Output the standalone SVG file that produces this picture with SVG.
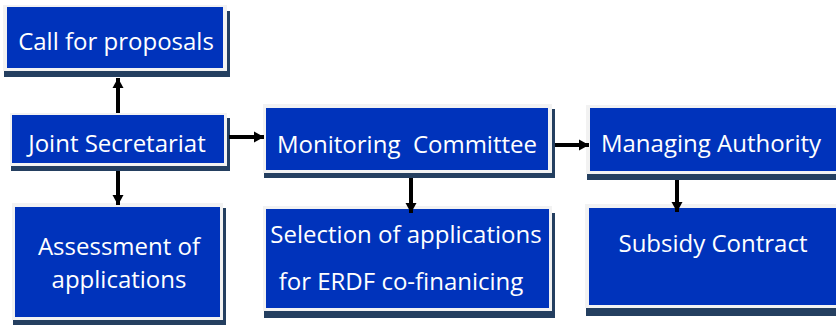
<svg xmlns="http://www.w3.org/2000/svg" width="836" height="325" viewBox="0 0 836 325">
<defs>
<marker id="ah" markerUnits="userSpaceOnUse" markerWidth="12" markerHeight="12" viewBox="0 0 12 12" refX="10" refY="6" orient="auto">
<path d="M0,0.5 L10,6 L0,11.5 Z" fill="#000"/>
</marker>
</defs>
<style>
.sh{fill:#243F60}
.bd{fill:#F2F2F2}
.bx{fill:#0033BB}
.t{font-family:"Open Sans","Noto Sans",sans-serif;font-size:24px;fill:#FFFFFF;text-anchor:middle}
.c{stroke:#000;stroke-width:4;fill:none;marker-end:url(#ah)}
</style>
<rect width="836" height="325" fill="#FFFFFF"/>
<g id="call">
<rect class="sh" x="4" y="11" width="226" height="66"/>
<rect class="bd" x="3" y="5" width="224" height="66"/>
<rect class="bx" x="7" y="7" width="216" height="61"/>
<text class="t" x="116" y="50">Call for proposals</text>
</g>
<g id="js">
<rect class="sh" x="11" y="118" width="219" height="53"/>
<rect class="bd" x="10" y="113" width="217" height="53"/>
<rect class="bx" x="12" y="115" width="212" height="48"/>
<text class="t" x="117" y="152">Joint Secretariat</text>
</g>
<g id="assess">
<rect class="sh" x="13" y="208" width="213" height="117"/>
<rect class="bd" x="12" y="203" width="211" height="117"/>
<rect class="bx" x="15" y="207" width="205" height="110"/>
<text class="t" x="119" y="255">Assessment of</text>
<text class="t" x="119" y="288">applications</text>
</g>
<g id="mc">
<rect class="sh" x="264" y="109" width="291" height="69"/>
<rect class="bd" x="263" y="104" width="289" height="69"/>
<rect class="bx" x="266" y="108" width="282" height="62"/>
<text class="t" x="407" y="153" xml:space="preserve">Monitoring  Committee</text>
</g>
<g id="sel">
<rect class="sh" x="264" y="213" width="291" height="105"/>
<rect class="bd" x="263" y="206" width="289" height="105"/>
<rect class="bx" x="266" y="209" width="283" height="99"/>
<text class="t" x="406" y="243">Selection of applications</text>
<text class="t" x="401" y="290">for ERDF co-finanicing</text>
</g>
<g id="ma">
<rect class="sh" x="587" y="111" width="260" height="69"/>
<rect class="bd" x="586" y="105" width="260" height="69"/>
<rect class="bx" x="590" y="108" width="256" height="63"/>
<text class="t" x="711" y="152">Managing Authority</text>
</g>
<g id="sc">
<rect class="sh" x="586" y="212" width="260" height="104"/>
<rect class="bd" x="585" y="204" width="260" height="104"/>
<rect class="bx" x="589" y="208" width="256" height="97"/>
<text class="t" x="713" y="252">Subsidy Contract</text>
</g>
<g id="connectors">
<line class="c" x1="118" y1="113" x2="118" y2="78"/>
<line class="c" x1="118" y1="171" x2="118" y2="205"/>
<line class="c" x1="229" y1="137" x2="264" y2="137"/>
<line class="c" x1="555" y1="145" x2="589" y2="145"/>
<line class="c" x1="411" y1="178" x2="411" y2="213"/>
<line class="c" x1="677" y1="180" x2="677" y2="212"/>
</g>
</svg>
